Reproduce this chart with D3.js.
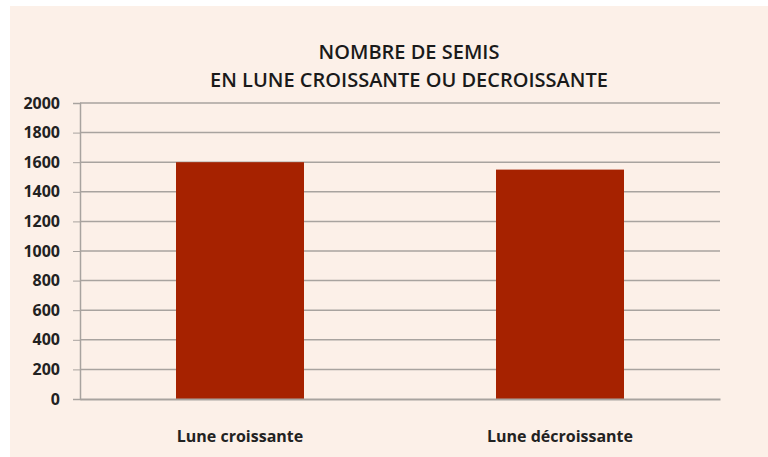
<!DOCTYPE html>
<html>
<head>
<meta charset="utf-8">
<script src="https://cdn.jsdelivr.net/npm/d3@7"></script>
<style>
  body { margin: 0; background: #fff; }
  svg { display: block; }
  .axis text { font-family: "Open Sans", sans-serif; font-weight: bold; font-size: 16px; fill: #222; }
  .axis path, .axis line { stroke: #a8a39f; }
</style>
</head>
<body>
<script>
// chart data
var categories = ["Lune croissante", "Lune décroissante"];
var semis = [1600, 1550];
var yTicks = [0, 200, 400, 600, 800, 1000, 1200, 1400, 1600, 1800, 2000];
var titleLines = ["NOMBRE DE SEMIS", "EN LUNE CROISSANTE OU DECROISSANTE"];

var svgwidth = 768,
    svgheight = 457;

var svg = d3.select("body").append("svg")
    .attr("width", svgwidth)
    .attr("height", svgheight);

// panel background
svg.append("rect")
    .attr("x", 10).attr("y", 6)
    .attr("width", svgwidth - 10).attr("height", svgheight - 6)
    .attr("fill", "#fcf0e8");

var margin = {top: 103, left: 80, right: 48, bottom: 58},
    width = svgwidth - margin.left - margin.right,
    height = svgheight - margin.top - margin.bottom;

var x = d3.scaleBand().domain(categories).range([0, width]).paddingInner(0.6).paddingOuter(0.3),
    y = d3.scaleLinear().domain([0, 2000]).range([height, 0]);

var g = svg.append("g")
    .attr("transform", "translate(" + margin.left + "," + margin.top + ")");

// title
svg.append("text")
    .attr("x", 409).attr("y", 59)
    .attr("text-anchor", "middle")
    .style("font-family", "'Open Sans', sans-serif")
    .style("font-size", "20px")
    .style("font-weight", "600")
    .style("fill", "#1a1a1a")
    .selectAll("tspan")
    .data(titleLines)
    .enter().append("tspan")
      .attr("x", 409)
      .attr("dy", function(d, i) { return i ? 28 : 0; })
      .text(function(d) { return d; });

// gridlines
g.selectAll(".grid")
    .data(yTicks.slice(1))
    .enter().append("line")
      .attr("class", "grid")
      .attr("x1", 0).attr("x2", width)
      .attr("y1", function(d) { return y(d); })
      .attr("y2", function(d) { return y(d); })
      .attr("stroke", "#a8a39f")
      .attr("stroke-width", 1.5);

// y axis
g.append("g")
    .attr("class", "axis axis--y")
    .call(d3.axisLeft(y).tickValues(yTicks).tickFormat(d3.format("d")).tickSize(7).tickPadding(13))
    .call(function(a) { a.select(".domain").attr("stroke-width", 1.5); });

// bars
g.selectAll(".bar")
    .data(semis)
    .enter().append("rect")
      .attr("class", "bar")
      .attr("x", function(d, i) { return x(categories[i]); })
      .attr("y", function(d) { return y(d); })
      .attr("width", x.bandwidth())
      .attr("height", function(d) { return height - y(d); })
      .attr("fill", "#a62200");

// x axis
g.append("g")
    .attr("class", "axis axis--x")
    .attr("transform", "translate(0," + height + ")")
    .call(d3.axisBottom(x).tickSize(0).tickPadding(32))
    .call(function(a) { a.select(".domain").attr("stroke-width", 2); });
</script>
</body>
</html>
